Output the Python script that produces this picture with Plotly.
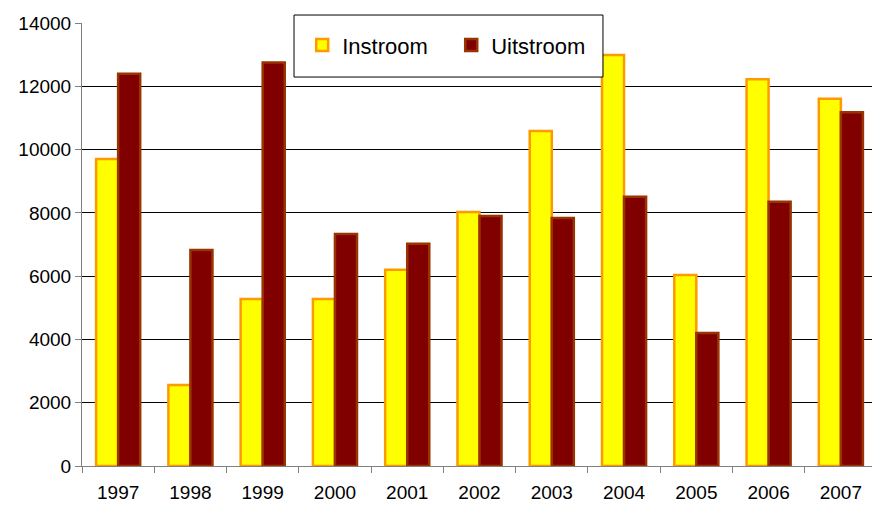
import plotly.graph_objects as go

years = ["1997", "1998", "1999", "2000", "2001", "2002", "2003", "2004", "2005", "2006", "2007"]
instroom = [9700, 2560, 5280, 5280, 6200, 8030, 10590, 12990, 6040, 12220, 11610]
uitstroom = [12400, 6830, 12750, 7330, 7020, 7900, 7840, 8510, 4200, 8350, 11180]

fig = go.Figure()
fig.add_trace(go.Bar(x=years, y=instroom, name="Instroom",
                     marker=dict(color="#FFFF00", line=dict(color="#FF9900", width=2.5))))
fig.add_trace(go.Bar(x=years, y=uitstroom, name="Uitstroom",
                     marker=dict(color="#800000", line=dict(color="#993300", width=2.5))))

# page body has an 8px default margin, so the figure is offset by 8px
fig.update_layout(
    width=872, height=497,
    margin=dict(l=74, r=3, t=15, b=39, autoexpand=False),
    paper_bgcolor="white", plot_bgcolor="white",
    font=dict(family="Liberation Sans, Arial", size=19, color="black"),
    barmode="group", bargap=0.39, bargroupgap=0,
    showlegend=True,
    legend=dict(orientation="h", x=0.277, y=0.95, xanchor="left", yanchor="middle",
                font=dict(size=22), bgcolor="rgba(0,0,0,0)", borderwidth=0,
                entrywidth=104, entrywidthmode="pixels"),
    shapes=[dict(type="rect", xref="paper", yref="paper", x0=0.2667, x1=0.6553, y0=0.878, y1=1.018,
                 line=dict(color="black", width=1), fillcolor="white", layer="above")],
)
fig.update_xaxes(showline=True, linecolor="#808080", linewidth=1, ticks="outside", ticklen=6,
                 tickcolor="#808080", showgrid=False, tickson="boundaries", automargin=False,
                 tickfont=dict(size=19), ticklabelstandoff=9)
fig.update_yaxes(range=[0, 14000], dtick=2000, showline=True, linecolor="#808080", linewidth=1,
                 ticks="outside", ticklen=6, tickcolor="#808080", showgrid=True, gridcolor="black",
                 gridwidth=1, zeroline=False, tickformat="d", automargin=False,
                 tickfont=dict(size=19))

fig.write_html("out.html")
